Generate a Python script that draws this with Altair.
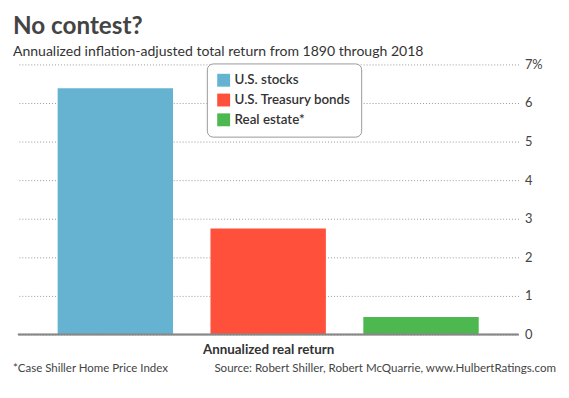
import altair as alt
import pandas as pd

categories = ["U.S. stocks", "U.S. Treasury bonds", "Real estate*"]
values = [6.38, 2.75, 0.45]
colors = ["#66B3D1", "#FF503C", "#4DB84F"]
y_ticks = [0, 1, 2, 3, 4, 5, 6, 7]

df = pd.DataFrame({"asset": categories, "ret": values})

W, H = 506, 273

yaxis = alt.Axis(orient="right", values=y_ticks, title=None,
                 ticks=False, domain=False, labelPadding=6,
                 labelFont="Lato", labelFontSize=13, labelColor="#444",
                 labelExpr="datum.value == 7 ? '7%' : datum.label",
                 labelOverlap=False,
                 grid=True, gridColor="#999", gridDash=[1, 2], gridWidth=1)

shadow = alt.Chart(df).mark_rect(color="#999", opacity=0.45, cornerRadius=6).encode(
    x=alt.value(194), x2=alt.value(345), y=alt.value(2), y2=alt.value(72)
)

bars = alt.Chart(df).mark_bar().encode(
    x=alt.X("asset:N", sort=categories,
            scale=alt.Scale(paddingInner=0.245, paddingOuter=0.26, align=0.5),
            axis=alt.Axis(labels=False, ticks=False, domain=False,
                          title="Annualized real return", titleFont="Lato",
                          titleFontSize=13.5, titleFontWeight="bold",
                          titleColor="#333", titlePadding=8)),
    y=alt.Y("ret:Q", scale=alt.Scale(domain=[0, 7], nice=False), axis=yaxis),
    color=alt.Color("asset:N", sort=categories,
                    scale=alt.Scale(domain=categories, range=colors),
                    legend=alt.Legend(title=None, orient="none",
                                      legendX=191, legendY=-1,
                                      symbolType="square", symbolSize=170,
                                      symbolStrokeWidth=0, symbolOpacity=1,
                                      labelFont="Lato", labelFontSize=13.5,
                                      labelFontWeight=600, labelColor="#333",
                                      rowPadding=6, padding=10,
                                      fillColor="white", strokeColor="#999",
                                      cornerRadius=6)),
)

baseline = alt.Chart(df).mark_rule(color="#888", strokeWidth=1.5).encode(
    y=alt.YDatum(0, axis=yaxis)
)

notes = pd.DataFrame({"t": ["*Case Shiller Home Price Index"]})
note_left = alt.Chart(notes).mark_text(
    align="left", baseline="alphabetic", font="Lato", fontSize=11.6, color="#444"
).encode(x=alt.value(-5), y=alt.value(H + 38), text="t:N")

src = pd.DataFrame({"t": ["Source: Robert Shiller, Robert McQuarrie, www.HulbertRatings.com"]})
note_right = alt.Chart(src).mark_text(
    align="right", baseline="alphabetic", font="Lato", fontSize=11.7, color="#444"
).encode(x=alt.value(W + 38), y=alt.value(H + 38), text="t:N")

chart = alt.layer(shadow, bars, baseline, note_left, note_right).properties(
    width=W, height=H,
    padding={"left": 5, "top": 4, "right": 5, "bottom": 5},
    title=alt.TitleParams(
        text="No contest?", subtitle="Annualized inflation-adjusted total return from 1890 through 2018",
        anchor="start", font="Lato", fontSize=24.5, fontWeight="bold",
        color="#444", subtitleFont="Lato", subtitleFontSize=14.2,
        subtitleColor="#333", subtitlePadding=6, offset=-2,
    ),
).configure_view(stroke=None)

chart.save("out.html", embed_options={"renderer": "svg", "actions": False})
